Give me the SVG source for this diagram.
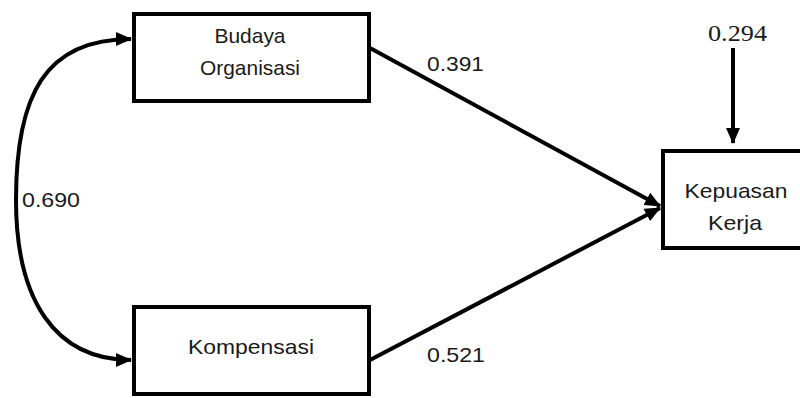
<svg xmlns="http://www.w3.org/2000/svg" width="800" height="398" viewBox="0 0 800 398">
<style>
.box{fill:#fff;stroke:#000;stroke-width:4}
.lbl{font-family:"Liberation Sans",Arial,sans-serif;font-size:21px;fill:#1a1a1a}
.num{font-family:"Liberation Sans",Arial,sans-serif;font-size:21px;fill:#1a1a1a}
.ser{font-family:"Liberation Serif","Times New Roman",serif;font-size:24px;fill:#1a1a1a}
.con{fill:none;stroke:#000;stroke-width:4}
</style>
<defs>
<marker id="ah" markerUnits="userSpaceOnUse" markerWidth="16" markerHeight="14" refX="15" refY="7" orient="auto">
<path d="M0,0 L16,7 L0,14 Z" fill="#000"/>
</marker>
</defs>
<rect width="800" height="398" fill="#fff"/>
<g id="connectors">
<path class="con" d="M16,200 C16,95 45,39 131,39" marker-end="url(#ah)"/>
<path class="con" d="M16,200 C16,300 55,360 131,360" marker-end="url(#ah)"/>
<line class="con" x1="370" y1="48" x2="660" y2="206" marker-end="url(#ah)"/>
<line class="con" x1="370" y1="360" x2="660" y2="208" marker-end="url(#ah)"/>
<line class="con" x1="733" y1="48" x2="733" y2="143" marker-end="url(#ah)"/>
<text class="num" x="22" y="207" textLength="58" lengthAdjust="spacingAndGlyphs">0.690</text>
<text class="num" x="427" y="71" textLength="57" lengthAdjust="spacingAndGlyphs">0.391</text>
<text class="num" x="427" y="362" textLength="58" lengthAdjust="spacingAndGlyphs">0.521</text>
<text class="ser" x="708" y="41" font-family="Liberation Serif, serif" textLength="59" lengthAdjust="spacingAndGlyphs">0.294</text>
</g>
<g id="budaya">
<rect class="box" x="134" y="14" width="235" height="87"/>
<text class="lbl" x="250" y="43" text-anchor="middle" textLength="71" lengthAdjust="spacingAndGlyphs">Budaya</text>
<text class="lbl" x="250" y="75" text-anchor="middle" textLength="100" lengthAdjust="spacingAndGlyphs">Organisasi</text>
</g>
<g id="kompensasi">
<rect class="box" x="134" y="307" width="235" height="87"/>
<text class="lbl" x="251" y="354" text-anchor="middle" textLength="126" lengthAdjust="spacingAndGlyphs">Kompensasi</text>
</g>
<g id="kepuasan">
<rect class="box" x="663" y="151" width="150" height="97"/>
<text class="lbl" x="736" y="198" text-anchor="middle" textLength="103" lengthAdjust="spacingAndGlyphs">Kepuasan</text>
<text class="lbl" x="735" y="230" text-anchor="middle" textLength="54" lengthAdjust="spacingAndGlyphs">Kerja</text>
</g>
</svg>
